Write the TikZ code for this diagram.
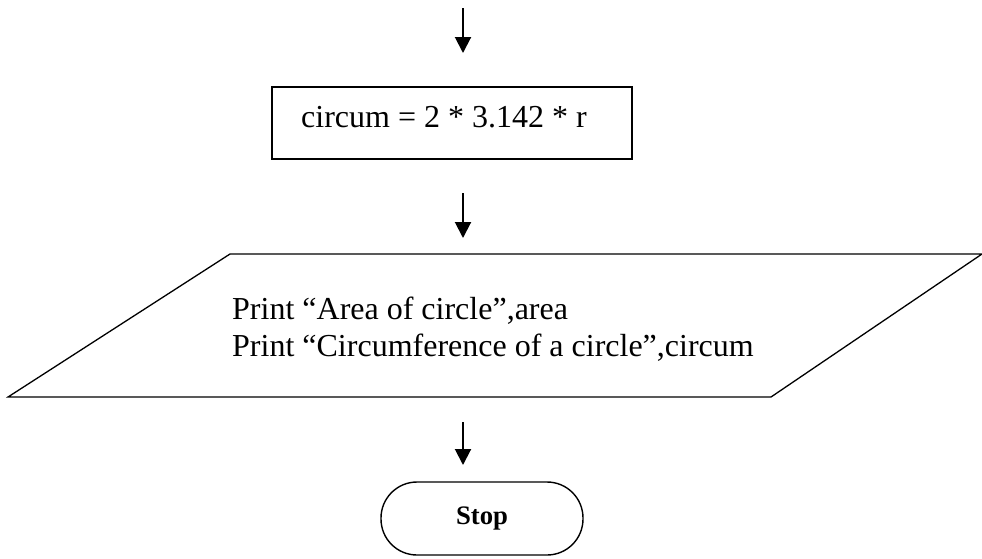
\documentclass[tikz,border=0pt]{standalone}
\usepackage{fontspec}
\setmainfont{Liberation Serif}
\usetikzlibrary{arrows.meta}
\tikzset{
  flowarrow/.style={line width=2pt,-{Triangle[length=16pt,width=16pt]}},
  procbox/.style={draw,line width=1.6pt,minimum width=360pt,minimum height=72pt,inner sep=0pt},
  iobox/.style={draw,line width=1.3pt},
  termbox/.style={draw,line width=1.4pt,rounded corners=36pt,minimum width=202pt,minimum height=73pt,inner sep=0pt,font=\fontsize{26.7}{30}\selectfont\bfseries},
  bigtext/.style={font=\fontsize{32}{38}\selectfont,inner sep=0pt,anchor=base west}
}
\begin{document}
\begin{tikzpicture}[x=1pt,y=-1pt]
\useasboundingbox (0,0) rectangle (982,558);
% arrow 1
\coordinate (a1s) at (463,8);
\coordinate (a1e) at (463,53);
\draw[flowarrow] (a1s) -- (a1e);
% process box
\node[procbox] (box) at (452,123) {};
\node[bigtext] (boxtext) at (301,127) {circum = 2 * 3.142 * r};
% arrow 2
\coordinate (a2s) at (463,193);
\coordinate (a2e) at (463,238);
\draw[flowarrow] (a2s) -- (a2e);
% parallelogram
\coordinate (p1) at (230,254);
\coordinate (p2) at (982,254);
\coordinate (p3) at (771,397);
\coordinate (p4) at (8,397);
\draw[iobox] (p1) -- (p2) -- (p3) -- (p4) -- cycle;
\node[bigtext] (line1) at (232,319) {Print “Area of circle”,area};
\node[bigtext] (line2) at (232,356) {Print “Circumference of a circle”,circum};
% arrow 3
\coordinate (a3s) at (463,422);
\coordinate (a3e) at (463,465);
\draw[flowarrow] (a3s) -- (a3e);
% terminal
\node[termbox] (stop) at (482,518.5) {Stop};
\end{tikzpicture}
\end{document}
